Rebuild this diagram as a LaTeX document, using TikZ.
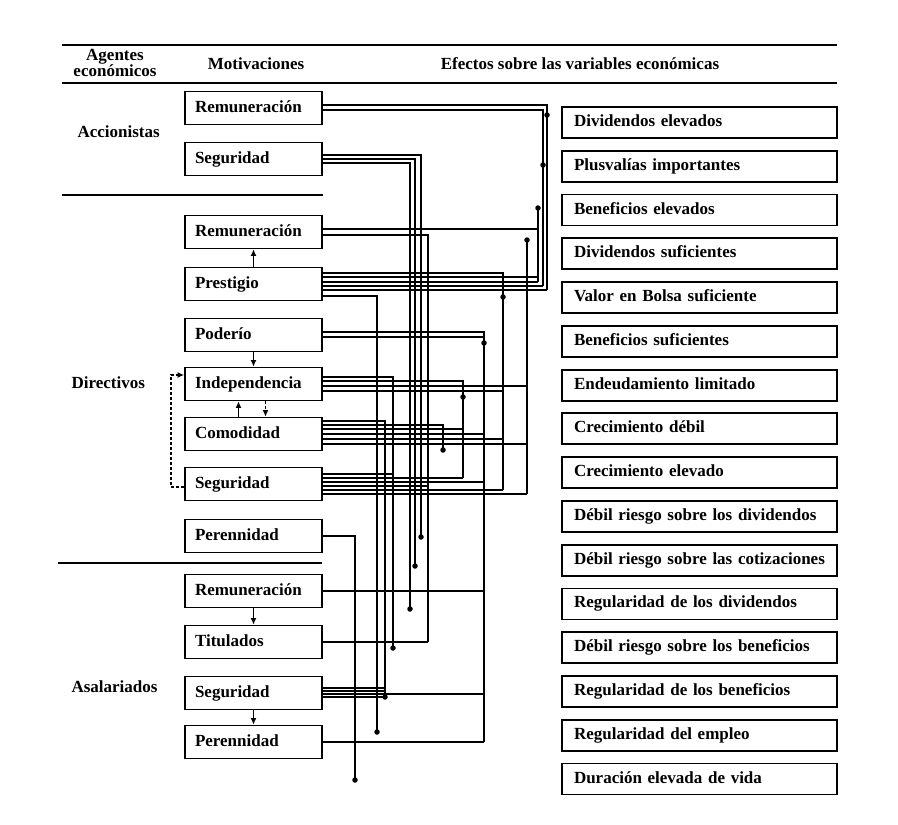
\documentclass[tikz,border=0pt]{standalone}
\usepackage{fontspec}
\setmainfont{Liberation Serif}
\usetikzlibrary{arrows.meta}
\begin{document}
\begin{tikzpicture}[x=1pt,y=-1pt,
  txt/.style={font=\fontsize{17}{19}\selectfont\bfseries},
  motiv/.style={txt,draw,line width=1.8pt,minimum width=137pt,minimum height=33pt,
    inner xsep=10pt,inner ysep=0pt,text width=117pt,align=left,
    text height=11.5pt,text depth=3.5pt},
  efecto/.style={txt,draw,line width=1.8pt,minimum width=275pt,minimum height=31pt,
    inner xsep=12pt,inner ysep=0pt,text width=251pt,align=left,
    text height=11.5pt,text depth=3.5pt},
  rule/.style={line width=1.7pt},
  wire/.style={line width=1.3pt},
  link/.style={line width=1.3pt,-{Latex[length=6.5pt,width=6pt]}},
  dot/.style={circle,fill,inner sep=0pt,minimum size=5.5pt}
]
\useasboundingbox (0,0) rectangle (898,825);

% header rules
\coordinate (r1a) at (62,45);  \coordinate (r1b) at (837,45);
\coordinate (r2a) at (62,83);  \coordinate (r2b) at (837,83);
\coordinate (r3a) at (62,195); \coordinate (r3b) at (323,195);
\coordinate (r4a) at (58,563); \coordinate (r4b) at (322,563);
\draw[rule] (r1a) -- (r1b);
\draw[rule] (r2a) -- (r2b);
\draw[rule] (r3a) -- (r3b);
\draw[rule] (r4a) -- (r4b);

% column headings
\node[txt,align=center,font=\fontsize{17}{13}\selectfont\bfseries] (hA) at (115,63) {Agentes\\económicos};
\node[txt] (hM) at (256,64) {Motivaciones};
\node[txt] (hE) at (580,64) {Efectos sobre las variables económicas};

% economic agents
\node[txt,anchor=west] (aA) at (74,132) {Accionistas};
\node[txt,anchor=west] (aD) at (68,383) {Directivos};
\node[txt,anchor=west] (aS) at (68,687) {Asalariados};

% motivations
\node[motiv] (m1)  at (253.5,108) {Remuneración};
\node[motiv] (m2)  at (253.5,159) {Seguridad};
\node[motiv] (m3)  at (253.5,232) {Remuneración};
\node[motiv] (m4)  at (253.5,284) {Prestigio};
\node[motiv] (m5)  at (253.5,335) {Poderío};
\node[motiv] (m6)  at (253.5,384) {Independencia};
\node[motiv] (m7)  at (253.5,434) {Comodidad};
\node[motiv] (m8)  at (253.5,484) {Seguridad};
\node[motiv] (m9)  at (253.5,536) {Perennidad};
\node[motiv] (m10) at (253.5,591) {Remuneración};
\node[motiv] (m11) at (253.5,642) {Titulados};
\node[motiv] (m12) at (253.5,693) {Seguridad};
\node[motiv] (m13) at (253.5,742) {Perennidad};

% effects on the economic variables
\foreach \i/\t in {1/Dividendos elevados, 2/Plusvalías importantes, 3/Beneficios elevados,
  4/Dividendos suficientes, 5/Valor en Bolsa suficiente, 6/Beneficios suficientes,
  7/Endeudamiento limitado, 8/Crecimiento débil, 9/Crecimiento elevado,
  10/Débil riesgo sobre los dividendos, 11/Débil riesgo sobre las cotizaciones,
  12/Regularidad de los dividendos, 13/Débil riesgo sobre los beneficios,
  14/Regularidad de los beneficios, 15/Regularidad del empleo, 16/Duración elevada de vida}
  \node[efecto] (e\i) at (699.5,{122.5+43.77*(\i-1)}) {\t};

% links between motivations
\draw[link] (m4.north) -- (m3.south);
\draw[link] (m5.south) -- (m6.north);
\draw[link] ([xshift=-15pt]m7.north) -- ([xshift=-15pt]m6.south);
\draw[link,dash pattern=on 3pt off 2pt] ([xshift=12pt]m6.south) -- ([xshift=12pt]m7.north);
\draw[link,dash pattern=on 3pt off 2pt] ([yshift=-3pt]m8.west) -- ++(-13,0) |- ([yshift=9pt]m6.west);
\draw[link] (m10.south) -- (m11.north);
\draw[link] (m12.south) -- (m13.north);

% wiring: ends and junctions
\coordinate (k1)  at (547,290);
\coordinate (k2)  at (543,286);
\coordinate (k3)  at (421,537);
\coordinate (k4)  at (415,566);
\coordinate (k5)  at (410,609);
\coordinate (k6)  at (538,282);
\coordinate (k7)  at (428,642);
\coordinate (k8)  at (503,490);
\coordinate (k9)  at (377,732);
\coordinate (k10) at (484,742);
\coordinate (k11) at (393,648);
\coordinate (k12) at (463,478);
\coordinate (k13) at (527,494);
\coordinate (k14) at (385,697);
\coordinate (k15) at (443,450);
\coordinate (k16) at (355,780);
\coordinate (j1)  at (538,277);
\coordinate (j2)  at (484,337);
\coordinate (j3)  at (527,386);
\coordinate (j4)  at (503,391);
\coordinate (j5)  at (463,429);
\coordinate (j6)  at (484,434);
\coordinate (j7)  at (503,439);
\coordinate (j8)  at (527,444);
\coordinate (j9)  at (393,474);
\coordinate (j10) at (484,482);
\coordinate (j11) at (428,486);
\coordinate (j12) at (484,591);
\coordinate (j13) at (385,688);
\coordinate (j14) at (385,691);
\coordinate (j15) at (484,694);
\coordinate (t1)  at (538,208);
\coordinate (t2)  at (527,240);

\foreach \b/\dy/\e in {
  m1/3/k1, m1/-2/k2,
  m2/4/k3, m2/0/k4, m2/-4/k5,
  m3/3/k6, m3/-3/k7,
  m4/11/k8, m4/7/j1, m4/2/k6, m4/-2/k2, m4/-6/k1, m4/-12/k9,
  m5/3/k10, m5/-2/j2,
  m6/7/k11, m6/3/k12, m6/-2/j3, m6/-7/j4,
  m7/13/k14, m7/9/k15, m7/5/j5, m7/0/j6, m7/-5/j7, m7/-10/j8,
  m8/10/j9, m8/6/k12, m8/2/j10, m8/-2/j11, m8/-6/k8, m8/-10/k13,
  m9/0/k16, m10/0/j12, m11/0/k7,
  m12/5/j13, m12/2/j14, m12/-1/j15, m12/-4/k14,
  m13/0/k10}
  \draw[wire] ([yshift=\dy pt]\b.east) -| (\e);

\draw[wire] (t1) -- (k6);
\draw[wire] (t2) -- (k13);

% dots marking the effects reached
\foreach \n/\x/\y in {p1/547/115, p2/543/165, p3/538/208, p4/527/240, p5/503/297,
  p6/484/343, p7/463/397, p8/443/450, p9/421/537, p10/415/566, p11/410/609,
  p12/393/648, p13/385/697, p14/377/732, p15/355/780}
  \node[dot] (\n) at (\x,\y) {};
\end{tikzpicture}
\end{document}
